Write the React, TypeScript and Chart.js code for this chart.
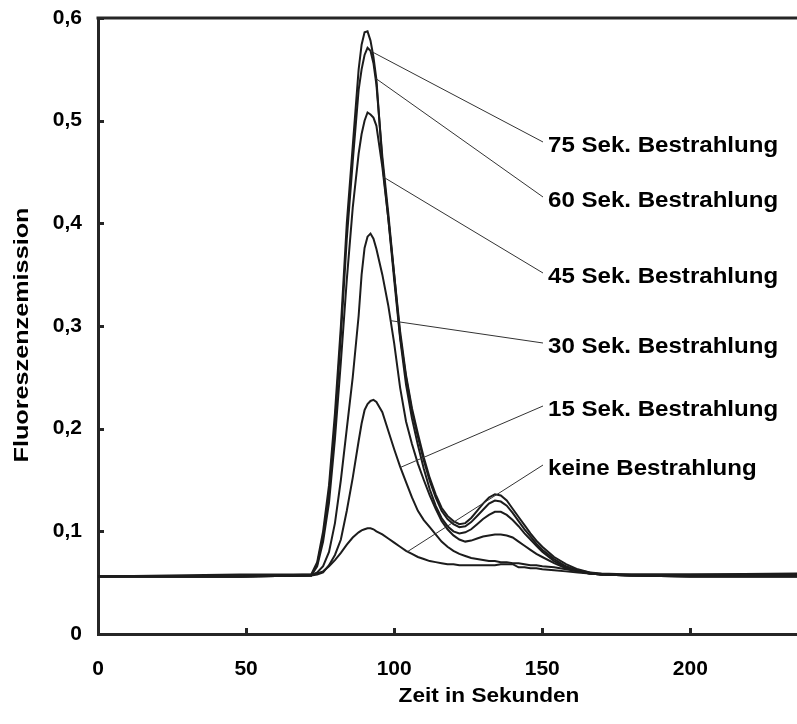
import React, { useEffect, useRef } from "react";
import { Chart, registerables } from "chart.js";

Chart.register(...registerables);

// Time in seconds (shared sample positions)
const times = [0, 48, 72, 74, 76, 78, 80, 82, 84, 86, 88, 89, 90, 91, 92, 93, 94, 96, 98, 100, 102, 104, 106, 108, 110, 112, 114, 116, 118, 120, 122, 124, 126, 128, 130, 132, 134, 136, 138, 140, 142, 144, 146, 148, 150, 154, 158, 162, 166, 170, 180, 200, 236];

const sek75 = [0.056, 0.056, 0.058, 0.07, 0.1, 0.145, 0.215, 0.3, 0.4, 0.475, 0.55, 0.574, 0.586, 0.587, 0.578, 0.562, 0.54, 0.46, 0.405, 0.35, 0.295, 0.252, 0.22, 0.195, 0.172, 0.152, 0.136, 0.123, 0.115, 0.11, 0.107, 0.108, 0.113, 0.12, 0.127, 0.133, 0.136, 0.135, 0.13, 0.122, 0.114, 0.106, 0.098, 0.091, 0.085, 0.075, 0.068, 0.063, 0.06, 0.059, 0.058, 0.058, 0.059];
const sek60 = [0.056, 0.056, 0.057, 0.068, 0.095, 0.138, 0.205, 0.29, 0.385, 0.46, 0.53, 0.55, 0.564, 0.571, 0.568, 0.556, 0.535, 0.465, 0.41, 0.35, 0.29, 0.25, 0.217, 0.192, 0.169, 0.149, 0.133, 0.12, 0.112, 0.107, 0.104, 0.105, 0.109, 0.115, 0.121, 0.127, 0.13, 0.129, 0.125, 0.118, 0.11, 0.102, 0.095, 0.088, 0.082, 0.073, 0.066, 0.062, 0.06, 0.058, 0.057, 0.057, 0.057];
const sek45 = [0.056, 0.056, 0.057, 0.066, 0.09, 0.128, 0.19, 0.265, 0.345, 0.415, 0.468, 0.487, 0.5, 0.508, 0.506, 0.503, 0.495, 0.455, 0.405, 0.345, 0.288, 0.243, 0.21, 0.184, 0.161, 0.141, 0.125, 0.113, 0.105, 0.1, 0.098, 0.099, 0.102, 0.107, 0.112, 0.116, 0.119, 0.119, 0.116, 0.111, 0.105, 0.098, 0.092, 0.086, 0.08, 0.071, 0.065, 0.061, 0.059, 0.058, 0.057, 0.056, 0.056];
const sek30 = [0.056, 0.056, 0.057, 0.06, 0.066, 0.08, 0.108, 0.15, 0.2, 0.25, 0.31, 0.35, 0.376, 0.387, 0.39, 0.385, 0.375, 0.35, 0.32, 0.283, 0.24, 0.207, 0.185, 0.166, 0.15, 0.135, 0.122, 0.11, 0.102, 0.096, 0.092, 0.09, 0.091, 0.093, 0.095, 0.096, 0.097, 0.097, 0.096, 0.094, 0.09, 0.086, 0.082, 0.078, 0.075, 0.069, 0.064, 0.061, 0.059, 0.058, 0.057, 0.056, 0.056];
const sek15 = [0.056, 0.056, 0.057, 0.058, 0.06, 0.067, 0.077, 0.092, 0.12, 0.152, 0.188, 0.205, 0.218, 0.224, 0.227, 0.228, 0.226, 0.216, 0.198, 0.18, 0.163, 0.148, 0.133, 0.12, 0.111, 0.104, 0.097, 0.09, 0.085, 0.081, 0.078, 0.076, 0.074, 0.073, 0.072, 0.071, 0.071, 0.07, 0.07, 0.069, 0.069, 0.068, 0.067, 0.067, 0.066, 0.065, 0.063, 0.061, 0.059, 0.058, 0.057, 0.056, 0.056];
const keine = [0.056, 0.058, 0.058, 0.059, 0.061, 0.066, 0.072, 0.079, 0.087, 0.094, 0.099, 0.101, 0.102, 0.103, 0.103, 0.102, 0.1, 0.097, 0.093, 0.089, 0.085, 0.081, 0.078, 0.075, 0.073, 0.071, 0.07, 0.069, 0.068, 0.068, 0.067, 0.067, 0.067, 0.067, 0.067, 0.067, 0.067, 0.068, 0.068, 0.068, 0.065, 0.065, 0.064, 0.064, 0.063, 0.062, 0.061, 0.06, 0.059, 0.058, 0.058, 0.058, 0.058];

const seriesLabels = ["75 Sek. Bestrahlung", "60 Sek. Bestrahlung", "45 Sek. Bestrahlung", "30 Sek. Bestrahlung", "15 Sek. Bestrahlung", "keine Bestrahlung"];
const seriesValues = [sek75, sek60, sek45, sek30, sek15, keine];
// x (seconds) where each leader line touches its curve
const leaderAnchorX = [92.7, 93.7, 96.4, 98.8, 102.1, 104.5];

const xTitle = "Zeit in Sekunden";
const yTitle = "Fluoreszenzemission";

const FONT = "'Liberation Sans', Arial, Helvetica, sans-serif";
const AXIS_COLOR = "#262626";
const LINE_COLOR = "#1c1c1c";

// layout of callout labels (pixels)
const labelX = 548;
const labelY = [146, 201, 277, 347, 410, 469];

function interp(xs: number[], ys: number[], x: number) {
  for (let i = 0; i < xs.length - 1; i++) {
    if (x >= xs[i] && x <= xs[i + 1]) {
      const t = (x - xs[i]) / (xs[i + 1] - xs[i]);
      return ys[i] + t * (ys[i + 1] - ys[i]);
    }
  }
  return ys[ys.length - 1];
}

function stretchedText(ctx: CanvasRenderingContext2D, text: string, x: number, y: number, sx: number, align: CanvasTextAlign, rotate = 0) {
  ctx.save();
  ctx.translate(x, y);
  if (rotate) ctx.rotate(rotate);
  ctx.scale(sx, 1);
  ctx.textAlign = align;
  ctx.textBaseline = "middle";
  ctx.fillText(text, 0, 0);
  ctx.restore();
}

const decorPlugin = {
  id: "decor",
  afterDraw(chart: any) {
    const ctx: CanvasRenderingContext2D = chart.ctx;
    const { left, right, top, bottom } = chart.chartArea;
    const xs = chart.scales.x;
    const ys = chart.scales.y;
    ctx.save();
    // top frame line
    ctx.strokeStyle = AXIS_COLOR;
    ctx.lineWidth = 3;
    ctx.beginPath();
    ctx.moveTo(left - 1.5, top);
    ctx.lineTo(right, top);
    ctx.stroke();
    // inward tick marks
    ctx.lineWidth = 3;
    xs.ticks.forEach((t: any) => {
      if (t.value === 0) return;
      const px = Math.round(xs.getPixelForValue(t.value)) + 0.5;
      ctx.beginPath();
      ctx.moveTo(px, bottom);
      ctx.lineTo(px, bottom - 6);
      ctx.stroke();
    });
    ys.ticks.forEach((t: any) => {
      if (t.value === 0) return;
      const py = Math.round(ys.getPixelForValue(t.value)) + 0.5;
      ctx.beginPath();
      ctx.moveTo(left, py);
      ctx.lineTo(left + 6, py);
      ctx.stroke();
    });
    // axis titles
    ctx.fillStyle = "#000";
    ctx.font = `bold 20px ${FONT}`;
    stretchedText(ctx, xTitle, 489, 696, 1.13, "center");
    ctx.font = `bold 21px ${FONT}`;
    stretchedText(ctx, yTitle, 22, 335, 1.2, "center", -Math.PI / 2);
    // leader lines + labels
    ctx.strokeStyle = "#333";
    ctx.lineWidth = 1;
    ctx.font = `bold 21.5px ${FONT}`;
    seriesLabels.forEach((lab, i) => {
      const ax = leaderAnchorX[i];
      const ay = interp(times, seriesValues[i], ax);
      const px = xs.getPixelForValue(ax);
      const py = ys.getPixelForValue(ay);
      ctx.beginPath();
      ctx.moveTo(px, py);
      ctx.lineTo(labelX - 5, labelY[i] - 4);
      ctx.stroke();
      stretchedText(ctx, lab, labelX, labelY[i], 1.12, "left");
    });
    ctx.restore();
  },
};

export default function App() {
  const ref = useRef<HTMLCanvasElement>(null);
  useEffect(() => {
    if (!ref.current) return;
    const datasets = seriesValues.map((vals, i) => ({
      label: seriesLabels[i],
      data: times.map((t, j) => ({ x: t, y: vals[j] })),
      borderColor: LINE_COLOR,
      borderWidth: 2,
      pointRadius: 0,
      tension: 0,
      fill: false,
    }));
    const chart = new Chart(ref.current, {
      type: "line",
      data: { datasets },
      plugins: [decorPlugin],
      options: {
        animation: false,
        responsive: true,
        maintainAspectRatio: false,
        layout: { padding: { top: 18, right: 0, left: 0, bottom: 0 } },
        plugins: { legend: { display: false }, tooltip: { enabled: false } },
        scales: {
          x: {
            type: "linear",
            min: 0,
            max: 236,
            grid: { display: false, drawTicks: false },
            border: { display: true, width: 3, color: AXIS_COLOR },
            ticks: {
              stepSize: 50,
              includeBounds: false,
              padding: 23,
              color: "#000",
              maxRotation: 0,
              font: { family: FONT, size: 21, weight: "bold" },
            },
            afterFit: (s: any) => {
              s.height = 90;
              s.paddingLeft = 0;
              s.paddingRight = 0;
            },
          },
          y: {
            min: 0,
            max: 0.6,
            grid: { display: false, drawTicks: false },
            border: { display: true, width: 3, color: AXIS_COLOR },
            ticks: {
              stepSize: 0.1,
              padding: 16,
              color: "#000",
              font: { family: FONT, size: 21, weight: "bold" },
              callback: (v: any) => (Number(v) === 0 ? "0" : Number(v).toFixed(1).replace(".", ",")),
            },
            afterFit: (s: any) => {
              s.width = 98;
              s.paddingTop = 0;
              s.paddingBottom = 0;
            },
          },
        },
      } as any,
    });
    return () => chart.destroy();
  }, []);
  return (
    <div style={{ position: "absolute", left: 0, top: 0, width: 797, height: 724, background: "#fff" }}>
      <canvas ref={ref} />
    </div>
  );
}
